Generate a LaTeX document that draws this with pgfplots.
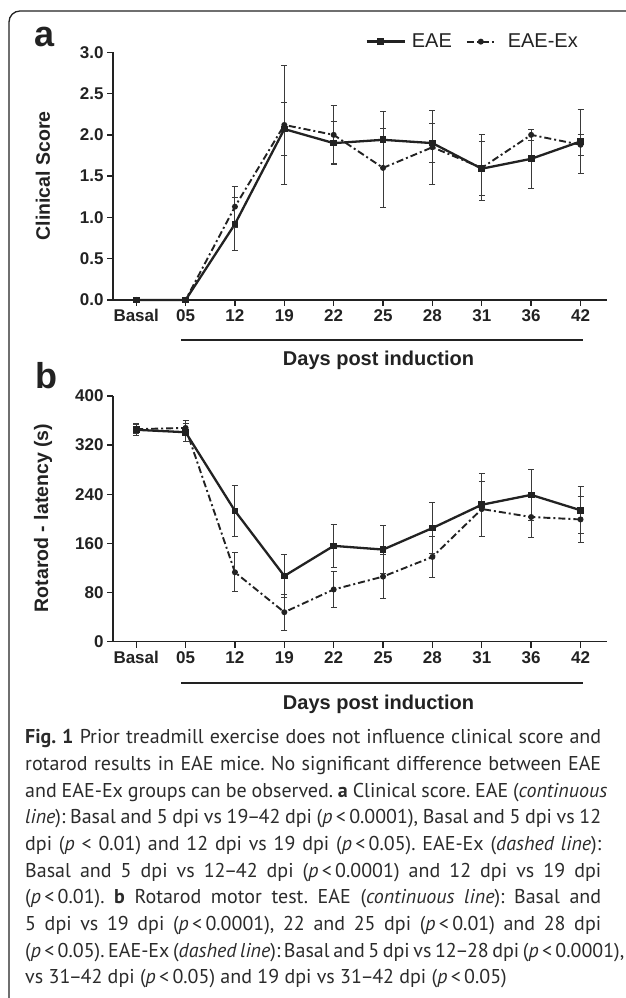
\documentclass[border=0pt]{standalone}
\usepackage{pgfplots}
\pgfplotsset{compat=1.18}
\usepackage{fontspec}
\setmainfont{Liberation Sans}
\newfontfamily\capfont{PT Sans}
\definecolor{ink}{HTML}{222222}
\definecolor{ebar}{HTML}{3A3A3A}
\definecolor{captxt}{HTML}{2B2B2B}
\newcommand{\nd}{\kern-1.5pt–\kern-1.5pt}

\pgfplotstableread{
x y e
0 0 0
1 0 0
2 0.92 0.32
3 2.07 0.32
4 1.90 0.26
5 1.94 0.34
6 1.90 0.24
7 1.59 0.33
8 1.71 0.36
9 1.92 0.39
}\aEAE
\pgfplotstableread{
x y e
0 0 0
1 0 0
2 1.13 0.25
3 2.12 0.72
4 2.00 0.35
5 1.60 0.48
6 1.85 0.45
7 1.60 0.40
8 2.00 0.07
9 1.88 0.125
}\aEx
\pgfplotstableread{
x y e
0 345 10
1 341 15
2 213 42
3 107 35
4 156 35
5 150 39
6 185 41
7 223 51
8 239 41
9 214 38
}\bEAE
\pgfplotstableread{
x y e
0 346 7
1 348 12
2 113 32
3 48 29
4 85 29
5 106 36
6 138 34
7 216 44
8 203 33
9 199 38
}\bEx

\pgfplotsset{
  panel/.style={
    scale only axis, anchor=south west, width=493.7pt,
    xmin=-0.47, xmax=9.53, clip=false,
    axis x line*=bottom, axis y line*=left,
    axis line style={-, line width=1.6pt, color=ink},
    tick align=outside, major tick length=6pt,
    tick style={line width=1.4pt, color=ink},
    xtick={0,...,9},
    xticklabels={Basal,05,12,19,22,25,28,31,36,42},
    /pgf/number format/assume math mode=true,
    tick label style={font=\bfseries\fontsize{17}{20}\selectfont, text=ink},
  },
  ebs/.style={
    error bars/y dir=both, error bars/y explicit,
    error bars/error bar style={line width=1pt, color=ebar, solid},
    error bars/error mark options={rotate=90, mark size=3pt, line width=1pt, color=ebar}},
  eae/.style={color=ink, line width=2.3pt, mark=square*, mark size=2.2pt,
    mark options={fill=ink, draw=ink, solid}, ebs},
  eaeex/.style={color=ink, line width=1.9pt, dash pattern=on 7pt off 3pt on 2pt off 3pt,
    mark=*, mark size=2pt, mark options={solid, fill=ink, draw=ink}, ebs},
  legA/.style={legend image code/.code={\draw[##1] (0pt,0pt) -- (38pt,0pt) plot coordinates {(14pt,0pt)}; \path (42pt,0pt);}},
  legB/.style={legend image code/.code={\draw[##1] (0pt,0pt) -- (28pt,0pt) plot coordinates {(14pt,0pt)}; \path (38pt,0pt);}},
}

\begin{document}
\begin{tikzpicture}[x=1pt,y=1pt]
\useasboundingbox (0,0) rectangle (625,998);
\draw[line width=1.3pt, rounded corners=11pt, color=ink] (9,-30) -- (9,987) -- (660,987);

% panel a
\begin{axis}[panel, at={(113pt,698pt)}, height=247.7pt,
  ymin=0, ymax=3, ytick={0,0.5,...,3},
  yticklabel style={/pgf/number format/.cd, fixed, fixed zerofill, precision=1},
  legend style={at={(0.952,1.043)}, anchor=east, draw=none, fill=none,
    legend columns=2, font=\fontsize{20}{24}\selectfont, text=ink,
    /tikz/every even column/.append style={column sep=12pt}},
  legend cell align=left]
\addplot[eae, legA] table[x=x, y=y, y error=e]{\aEAE};
\addlegendentry{EAE}
\addplot[eaeex, legB] table[x=x, y=y, y error=e]{\aEx};
\addlegendentry{EAE-Ex}
\end{axis}

% panel b
\begin{axis}[panel, at={(113pt,356.3pt)}, height=245.7pt,
  ymin=0, ymax=400, ytick={0,80,...,400}]
\addplot[eaeex] table[x=x, y=y, y error=e]{\bEx};
\addplot[eae] table[x=x, y=y, y error=e]{\bEAE};
\end{axis}

% panel letters
\node[anchor=base west, inner sep=0, font=\bfseries\fontsize{36}{40}\selectfont, text=ink] at (34,951) {a};
\node[anchor=base west, inner sep=0, font=\bfseries\fontsize{36}{40}\selectfont, text=ink] at (35,609.7) {b};

% y labels
\node[rotate=90, inner sep=0, font=\bfseries\fontsize{19.5}{22}\selectfont, text=ink] at (43,822) {Clinical Score};
\node[rotate=90, inner sep=0, font=\bfseries\fontsize{19.5}{22}\selectfont, text=ink] at (43,480) {Rotarod - latency (s)};

% x label groups
\draw[line width=2.2pt, color=ink] (181,658) -- (583.3,658);
\node[anchor=base, inner sep=0, font=\bfseries\fontsize{20}{24}\selectfont, text=ink] at (378.5,632.3) {Days post induction};
\draw[line width=2.2pt, color=ink] (181,314.7) -- (583.3,314.7);
\node[anchor=base, inner sep=0, font=\bfseries\fontsize{20}{24}\selectfont, text=ink] at (378.5,288.3) {Days post induction};

% caption
\begin{scope}[every node/.style={anchor=base west, inner sep=0, text=captxt, font=\capfont\fontsize{20}{24}\selectfont\frenchspacing}]
\node at (25,254.0) {\makebox[576pt][s]{\textbf{Fig. 1} Prior treadmill exercise does not influence clinical score and}};
\node at (25,227.3) {\makebox[576pt][s]{rotarod results in EAE mice. No significant difference between EAE}};
\node at (25,200.7) {\makebox[582pt][s]{and EAE-Ex groups can be observed. \textbf{a} Clinical score. EAE (\textit{continuous}}};
\node at (25,174.0) {\makebox[576pt][s]{\textit{line}): Basal and 5 dpi vs 19\nd42 dpi (\textit{p}\,<\,0.0001), Basal and 5 dpi vs 12}};
\node at (25,147.3) {\makebox[576pt][s]{dpi (\textit{p} < 0.01) and 12 dpi vs 19 dpi (\textit{p}\,<\,0.05). EAE-Ex (\textit{dashed line}):}};
\node at (25,120.7) {\makebox[576pt][s]{Basal and 5 dpi vs 12\nd42 dpi (\textit{p}\,<\,0.0001) and 12 dpi vs 19 dpi}};
\node at (25,94.0) {\makebox[576pt][s]{(\textit{p}\,<\,0.01). \textbf{b} Rotarod motor test. EAE (\textit{continuous line}): Basal and}};
\node at (25,67.3) {\makebox[576pt][s]{5 dpi vs 19 dpi (\textit{p}\,<\,0.0001), 22 and 25 dpi (\textit{p}\,<\,0.01) and 28 dpi}};
\node at (25,40.7) {\makebox[582pt][s]{(\textit{p}\,<\,0.05). EAE-Ex (\textit{dashed line}): Basal and 5 dpi vs 12\nd28 dpi (\textit{p}\,<\,0.0001),}};
\node at (25,14.0) {vs 31\nd42 dpi (\textit{p}\,<\,0.05) and 19 dpi vs 31\nd42 dpi (\textit{p}\,<\,0.05)};
\end{scope}
\end{tikzpicture}
\end{document}
